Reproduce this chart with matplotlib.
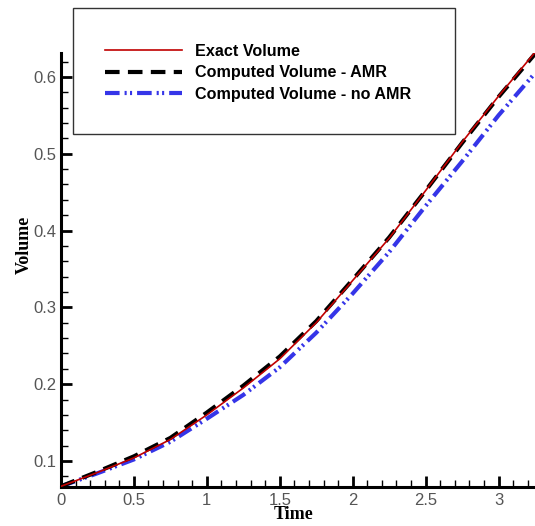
import matplotlib.pyplot as plt
from matplotlib.patches import Rectangle
from matplotlib.ticker import MultipleLocator

# data
t = [0.0, 0.25, 0.5, 0.75, 1.0, 1.25, 1.5, 1.75, 2.0, 2.25, 2.5, 2.75, 3.0, 3.25]
exact = [0.067, 0.085, 0.104, 0.128, 0.160, 0.195, 0.233, 0.280, 0.335, 0.390,
         0.452, 0.515, 0.575, 0.632]
amr = [0.067, 0.086, 0.106, 0.130, 0.163, 0.198, 0.236, 0.282, 0.336, 0.391,
       0.452, 0.514, 0.574, 0.630]
no_amr = [0.067, 0.084, 0.102, 0.125, 0.155, 0.186, 0.222, 0.267, 0.318, 0.372,
          0.432, 0.490, 0.550, 0.605]

fig = plt.figure(figsize=(5.35, 5.26), dpi=100)
ax = fig.add_axes([0.114, 0.074, 0.886, 0.825])

l1, = ax.plot(t, exact, color='#c00000', lw=1.2, zorder=3)
l2, = ax.plot(t, amr, color='black', lw=3, dashes=(3.5, 2), zorder=2)
l3, = ax.plot(t, no_amr, color='#3535e8', lw=3,
              dashes=(3.5, 1.2, 0.5, 0.8, 0.5, 1.2), zorder=1)

ax.set_xlim(0, 3.25)
ax.set_ylim(0.066, 0.631)
ax.xaxis.set_minor_locator(MultipleLocator(0.1))
ax.yaxis.set_minor_locator(MultipleLocator(0.02))
ax.set_xticks([0, 0.5, 1, 1.5, 2, 2.5, 3])
ax.set_xticklabels(['0', '0.5', '1', '1.5', '2', '2.5', '3'])
ax.set_yticks([0.1, 0.2, 0.3, 0.4, 0.5, 0.6])
ax.set_yticklabels(['0.1', '0.2', '0.3', '0.4', '0.5', '0.6'])

for s in ['top', 'right']:
    ax.spines[s].set_visible(False)
for s in ['left', 'bottom']:
    ax.spines[s].set_linewidth(2.2)
ax.tick_params(which='major', direction='in', length=8, width=2,
               labelsize=12, labelcolor='#555555', labelfontfamily='Liberation Sans')
ax.tick_params(which='minor', direction='in', length=5, width=1)
ax.tick_params(axis='x', pad=4)

ax.set_xlabel('Time', fontfamily='Liberation Serif', fontweight='bold', fontsize=13)
ax.set_ylabel('Volume', fontfamily='Liberation Serif', fontweight='bold', fontsize=13)
ax.xaxis.set_label_coords(0.49, -0.043)
ax.yaxis.set_label_coords(-0.078, 0.557)
ax.yaxis.label.set_va('center')

# legend box
fig.patches.append(Rectangle((73 / 535, 1 - 134 / 526), (455 - 73) / 535, 126 / 526,
                             transform=fig.transFigure, fill=False,
                             edgecolor='#333333', lw=1, zorder=5))
leg = fig.legend([l1, l2, l3],
                 ['Exact Volume', 'Computed Volume - AMR', 'Computed Volume - no AMR'],
                 loc='upper left', bbox_to_anchor=(105 / 535, 1 - 44 / 526),
                 frameon=False, handlelength=4.8, handletextpad=0.8,
                 labelspacing=0.4, borderpad=0, borderaxespad=0,
                 prop={'family': 'Liberation Sans', 'weight': 'bold', 'size': 11.6})

fig.savefig('out.png', dpi=100)
